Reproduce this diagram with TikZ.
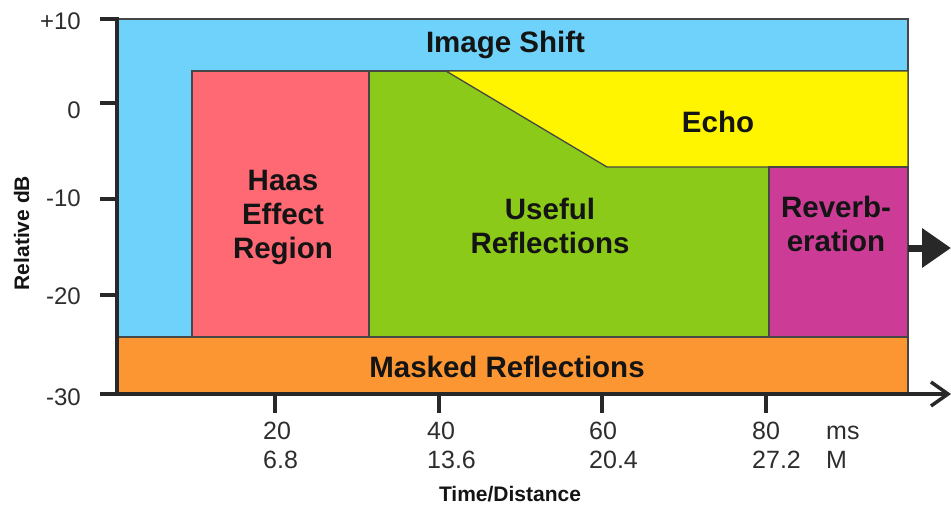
\documentclass[tikz,border=0pt]{standalone}
\usepackage{fontspec}
\setmainfont{Liberation Sans}
\usetikzlibrary{arrows.meta}
\definecolor{cblue}{RGB}{110,210,250}
\definecolor{cpink}{RGB}{255,105,116}
\definecolor{cgreen}{RGB}{140,202,26}
\definecolor{cyellow}{RGB}{255,245,0}
\definecolor{cmagenta}{RGB}{204,60,150}
\definecolor{corange}{RGB}{252,150,50}
\definecolor{cedge}{RGB}{70,70,70}
\definecolor{caxis}{RGB}{40,40,40}
\definecolor{ctext}{RGB}{20,20,20}
\definecolor{ctick}{RGB}{45,45,45}
\begin{document}
\begin{tikzpicture}[x=1pt,y=-1pt,
  region/.style={draw=cedge,line width=1.3pt},
  lbl/.style={font=\bfseries\fontsize{29.5}{34}\selectfont,align=center,text=ctext,inner sep=0pt},
  ylab/.style={font=\fontsize{24}{28}\selectfont,text=ctick,inner sep=0pt,anchor=east},
  xlab/.style={font=\fontsize{25}{29}\selectfont,text=ctick,inner sep=0pt,anchor=base west},
  axtitle/.style={font=\bfseries\fontsize{21}{25}\selectfont,text=ctext,inner sep=0pt},
  axisline/.style={draw=caxis,line width=4pt},
  tickline/.style={draw=caxis,line width=4pt}]
\useasboundingbox (0,0) rectangle (951,506);
% regions
\path[region,fill=cblue] (117,19) rectangle (908,337);
\path[region,fill=corange] (117,337) rectangle (908,393);
\path[region,fill=cpink] (192,71) rectangle (369,337);
\path[region,fill=cgreen] (369,71) rectangle (908,337);
\path[region,fill=cyellow] (446,71) -- (908,71) -- (908,167) -- (607,167) -- cycle;
\path[region,fill=cmagenta] (769,167) rectangle (908,337);
% region labels
\node[lbl,anchor=base] (shift) at (505.5,52) {Image Shift};
\node[lbl,anchor=base] (echo) at (718,132) {Echo};
\node[lbl] (haas) at (283,217) {Haas\\Effect\\Region};
\node[lbl] (useful) at (550,226) {Useful\\Reflections};
\node[lbl] (reverb) at (836,224) {Reverb-\\eration};
\node[lbl,anchor=base] (masked) at (507,377) {Masked Reflections};
% axes
\coordinate (yorig) at (117,393);
\coordinate (ytop) at (117,17);
\coordinate (xstart) at (100,394);
\coordinate (xend) at (951,394);
\draw[axisline] (yorig) -- (ytop);
\draw[draw=caxis,line width=3.5pt,-{Straight Barb[length=17pt,width=24pt]}] (xstart) -- (xend);
% y ticks
\foreach \yy in {19,103,199,295}{
  \draw[tickline] (100,\yy) -- (119,\yy);
}
\node[ylab] (l10) at (81,21) {+10};
\node[ylab] (l0) at (81,110) {0};
\node[ylab] (lm10) at (81,198) {-10};
\node[ylab] (lm20) at (81,296) {-20};
\node[ylab] (lm30) at (81,397) {-30};
% x ticks
\foreach \xx in {275,439,602,766}{
  \draw[tickline] (\xx,394) -- (\xx,413);
}
\node[xlab] (a20) at (263,439) {20};
\node[xlab] (b20) at (263,468) {6.8};
\node[xlab] (a40) at (427,439) {40};
\node[xlab] (b40) at (427,468) {13.6};
\node[xlab] (a60) at (589,439) {60};
\node[xlab] (b60) at (589,468) {20.4};
\node[xlab] (a80) at (752,439) {80};
\node[xlab] (b80) at (752,468) {27.2};
\node[xlab] (ums) at (826,439) {ms};
\node[xlab] (uM) at (826,468) {M};
% axis titles
\node[axtitle,anchor=base] (xt) at (510,501) {Time/Distance};
\node[axtitle,rotate=90,anchor=base] (yt) at (29,233) {Relative dB};
% reverberation arrow
\coordinate (rvstart) at (908,248);
\coordinate (rvend) at (951,248);
\draw[draw=caxis,line width=7pt,-{Triangle[length=29pt,width=38pt]}] (rvstart) -- (rvend);
\end{tikzpicture}
\end{document}
